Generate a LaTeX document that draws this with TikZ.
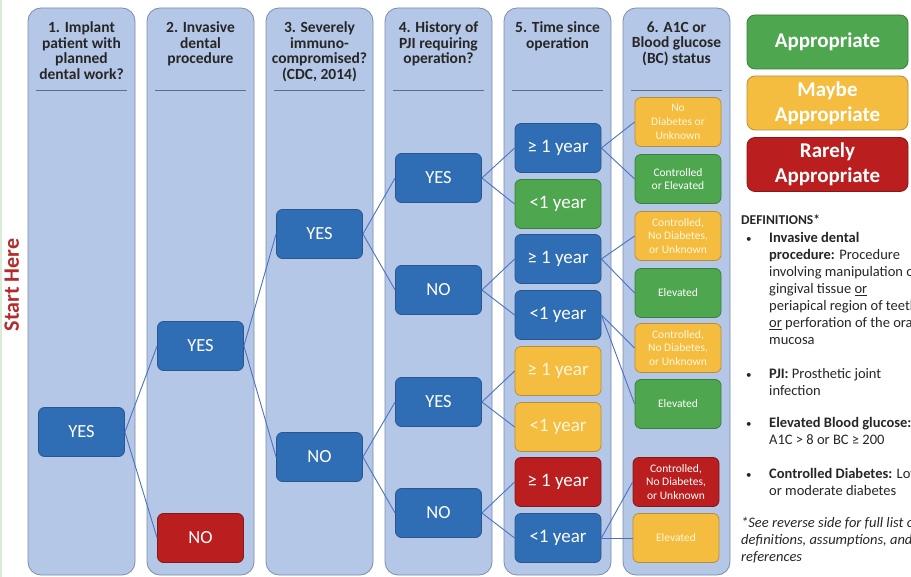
\documentclass[tikz,border=0pt]{standalone}
\usepackage{fontspec}
\setmainfont{Carlito}
\definecolor{colfill}{HTML}{B4C7E7}
\definecolor{colborder}{HTML}{7A8DAD}
\definecolor{sepcol}{HTML}{5A6E8E}
\definecolor{nblue}{HTML}{2F6EB4}
\definecolor{nblueb}{HTML}{2B5590}
\definecolor{ngreen}{HTML}{4EA64E}
\definecolor{ngreenb}{HTML}{3E7E3E}
\definecolor{nyellow}{HTML}{F5BD3F}
\definecolor{nyellowb}{HTML}{B98E3A}
\definecolor{nred}{HTML}{BA1E1E}
\definecolor{nredb}{HTML}{861818}
\definecolor{linkc}{HTML}{4A72C0}
\definecolor{starthere}{HTML}{B52B2B}
\definecolor{edgec}{HTML}{DCEBD5}
\definecolor{deftextc}{HTML}{262626}
\definecolor{creamtext}{HTML}{FFF6DC}
\begin{document}
\begin{tikzpicture}[x=1pt,y=-1pt,
  colbox/.style={draw=colborder, fill=colfill, line width=0.8pt, rounded corners=13pt},
  headtext/.style={anchor=north, inner sep=0pt, align=center, text=black!85, font=\bfseries\fontsize{15.5}{15.7}\selectfont},
  sepln/.style={draw=sepcol, line width=0.8pt},
  nbox/.style={rectangle, rounded corners=6pt, minimum width=86pt, minimum height=49pt, line width=0.8pt, text=white, align=center, inner sep=1pt, font=\fontsize{18.5}{20}\selectfont},
  bluebox/.style={nbox, fill=nblue, draw=nblueb},
  greenbox/.style={nbox, fill=ngreen, draw=ngreenb},
  yellowbox/.style={nbox, fill=nyellow, draw=nyellowb, text=creamtext},
  redbox/.style={nbox, fill=nred, draw=nredb},
  smalltext/.style={font=\fontsize{11.5}{13.8}\selectfont},
  bigtext/.style={font=\fontsize{19}{20}\selectfont},
  linkln/.style={draw=linkc, line width=0.9pt},
  legendbox/.style={rectangle, rounded corners=8pt, minimum width=161pt, minimum height=54pt, line width=0.8pt, text=white, align=center, font=\bfseries\fontsize{21}{25}\selectfont},
  deftext/.style={anchor=base west, inner sep=0pt, text=deftextc, font=\fontsize{14.5}{17}\selectfont},
]
\useasboundingbox (0,0) rectangle (911,577);
\fill[white] (0,0) rectangle (911,577);
\draw[edgec, line width=1.5pt] (0.75,0) -- (0.75,577);

% columns
\foreach \cx in {28,147,266,385,504,623}{
  \draw[colbox] (\cx,8) rectangle ++(107,567);
  \draw[sepln] (\cx+8,90) -- ++(91,0);
}

% headers
\node[headtext] (h1) at (81.5,21.5) {1. Implant\\patient with\\planned\\dental work?};
\node[headtext] (h2) at (200.5,21.5) {2. Invasive\\dental\\procedure};
\node[headtext] (h3) at (319.5,21.5) {3. Severely\\immuno-\\compromised?\\(CDC, 2014)};
\node[headtext] (h4) at (438.5,21.5) {4. History of\\PJI requiring\\operation?};
\node[headtext] (h5) at (557.5,21.5) {5. Time since\\operation};
\node[headtext] (h6) at (676.5,21.5) {6. A1C or\\Blood glucose\\(BC) status};

% start here
\node[rotate=90, anchor=base, inner sep=0pt, text=starthere, font=\bfseries\fontsize{22}{24}\selectfont] (start) at (19,285) {Start Here};

% decision nodes
\node[bluebox] (a1) at (81.5,432) {YES};
\node[bluebox] (b1) at (200.5,346) {YES};
\node[redbox] (b2) at (200.5,538) {NO};
\node[bluebox] (c1) at (319.5,234) {YES};
\node[bluebox] (c2) at (319.5,457) {NO};
\node[bluebox] (d1) at (438.5,178) {YES};
\node[bluebox] (d2) at (438.5,290) {NO};
\node[bluebox] (d3) at (438.5,402) {YES};
\node[bluebox] (d4) at (438.5,513) {NO};

\node[bluebox,bigtext] (e1) at (558,148) {≥ 1 year};
\node[greenbox,bigtext] (e2) at (558,204) {<1 year};
\node[bluebox,bigtext] (e3) at (558,259) {≥ 1 year};
\node[bluebox,bigtext] (e4) at (558,315) {<1 year};
\node[yellowbox,bigtext] (e5) at (558,371) {≥ 1 year};
\node[yellowbox,bigtext] (e6) at (558,427) {<1 year};
\node[redbox,bigtext] (e7) at (558,482) {≥ 1 year};
\node[bluebox,bigtext] (e8) at (558,538) {<1 year};

\node[yellowbox,smalltext] (f1) at (678,122) {No\\Diabetes or\\Unknown};
\node[greenbox,smalltext] (f2) at (678,179) {Controlled\\or Elevated};
\node[yellowbox,smalltext] (f3) at (678,236) {Controlled,\\No Diabetes,\\or Unknown};
\node[greenbox,smalltext] (f4) at (678,293) {Elevated};
\node[yellowbox,smalltext] (f5) at (678,348) {Controlled,\\No Diabetes,\\or Unknown};
\node[greenbox,smalltext] (f6) at (678,404) {Elevated};
\node[redbox,smalltext] (f7) at (676,482) {Controlled,\\No Diabetes,\\or Unknown};
\node[yellowbox,smalltext] (f8) at (676,538) {Elevated};

% connectors
\draw[linkln] (a1.east) -- (b1.west);
\draw[linkln] (a1.east) -- (b2.west);
\draw[linkln] (b1.east) -- (c1.west);
\draw[linkln] (b1.east) -- (c2.west);
\draw[linkln] (c1.east) -- (d1.west);
\draw[linkln] (c1.east) -- (d2.west);
\draw[linkln] (c2.east) -- (d3.west);
\draw[linkln] (c2.east) -- (d4.west);
\draw[linkln] (d1.east) -- (e1.west);
\draw[linkln] (d1.east) -- (e2.west);
\draw[linkln] (d2.east) -- (e3.west);
\draw[linkln] (d2.east) -- (e4.west);
\draw[linkln] (d3.east) -- (e5.west);
\draw[linkln] (d3.east) -- (e6.west);
\draw[linkln] (d4.east) -- (e7.west);
\draw[linkln] (d4.east) -- (e8.west);
\draw[linkln] (e1.east) -- (f1.west);
\draw[linkln] (e1.east) -- (f2.west);
\draw[linkln] (e3.east) -- (f3.west);
\draw[linkln] (e3.east) -- (f4.west);
\draw[linkln] (e4.east) -- (f5.west);
\draw[linkln] (e4.east) -- (f6.west);
\draw[linkln] (e8.east) -- (f7.west);
\draw[linkln] (e8.east) -- (f8.west);

% legend
\node[legendbox, fill=ngreen, draw=ngreenb] (l1) at (827.5,42) {Appropriate};
\node[legendbox, fill=nyellow, draw=nyellowb] (l2) at (827.5,103) {Maybe\\Appropriate};
\node[legendbox, fill=nred, draw=nredb] (l3) at (827.5,164.5) {Rarely\\Appropriate};

% definitions
\node[deftext, font=\bfseries\fontsize{13.5}{17}\selectfont] (dh) at (741,225) {DEFINITIONS*};
\node[deftext, font=\fontsize{11}{17}\selectfont] (p1) at (746,242.5) {•};
\node[deftext] (t1) at (769,242.5) {\textbf{Invasive dental}};
\node[deftext] (t2) at (769,259.5) {\textbf{procedure:} Procedure};
\node[deftext] (t3) at (769,276.5) {involving manipulation of};
\node[deftext] (t4) at (769,293.5) {gingival tissue \underline{or}};
\node[deftext] (t5) at (769,310.5) {periapical region of teeth};
\node[deftext] (t6) at (769,327.5) {\underline{or} perforation of the oral};
\node[deftext] (t7) at (769,344.5) {mucosa};
\node[deftext, font=\fontsize{11}{17}\selectfont] (p2) at (746,378.5) {•};
\node[deftext] (t8) at (769,378.5) {\textbf{PJI:} Prosthetic joint};
\node[deftext] (t9) at (769,395.5) {infection};
\node[deftext, font=\fontsize{11}{17}\selectfont] (p3) at (746,427.5) {•};
\node[deftext] (t10) at (769,427.5) {\textbf{Elevated Blood glucose:}};
\node[deftext] (t11) at (769,444.5) {A1C > 8 or BC ≥ 200};
\node[deftext, font=\fontsize{11}{17}\selectfont] (p4) at (746,478.5) {•};
\node[deftext] (t12) at (769,478.5) {\textbf{Controlled Diabetes:} Low};
\node[deftext] (t13) at (769,495.5) {or moderate diabetes};
\node[deftext, font=\itshape\fontsize{14.5}{17}\selectfont] (n1) at (741,527.5) {*See reverse side for full list of};
\node[deftext, font=\itshape\fontsize{14.5}{17}\selectfont] (n2) at (741,544.5) {definitions, assumptions, and};
\node[deftext, font=\itshape\fontsize{14.5}{17}\selectfont] (n3) at (741,561.5) {references};
\end{tikzpicture}
\end{document}
